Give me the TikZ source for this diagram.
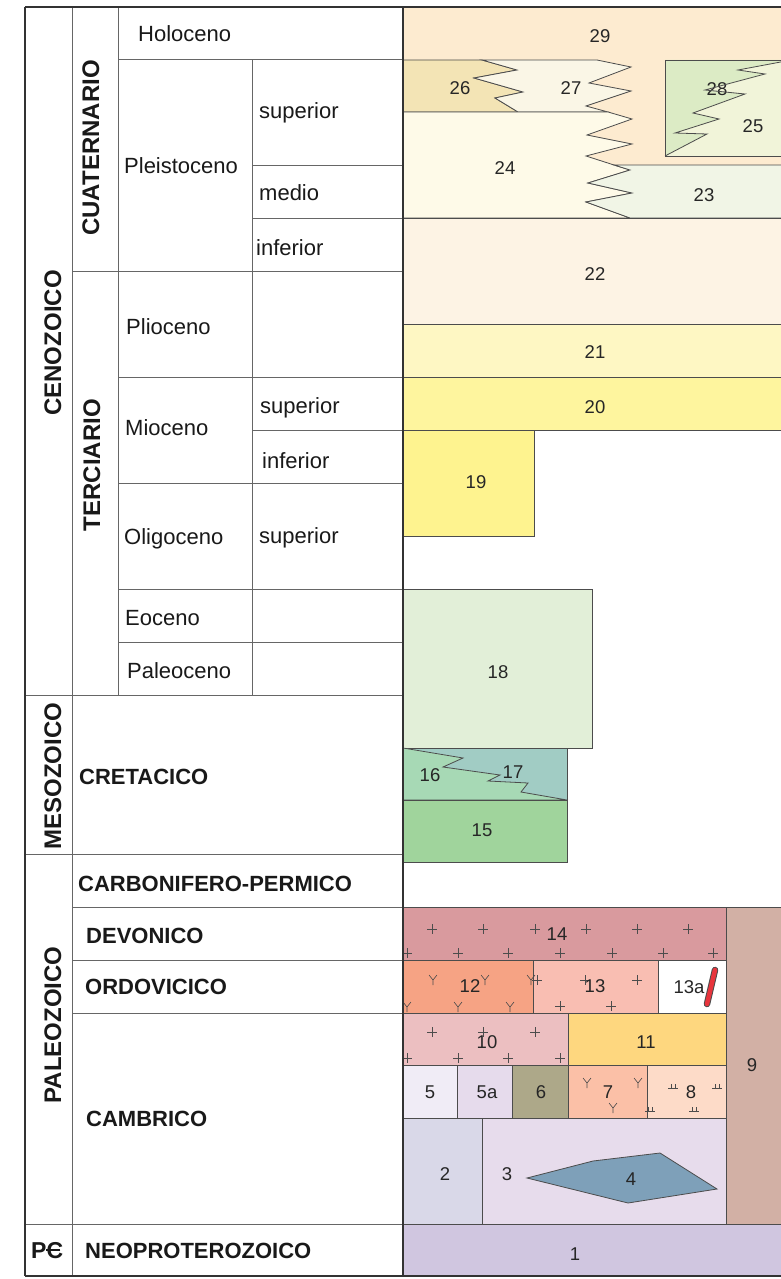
\documentclass[tikz,border=0pt]{standalone}
\usepackage{fontspec}
\setmainfont{Liberation Sans}
\definecolor{c29}{HTML}{FDEBD0}
\definecolor{c26}{HTML}{F3E4B5}
\definecolor{c27}{HTML}{FAF6E6}
\definecolor{c24}{HTML}{FEFAE8}
\definecolor{c23}{HTML}{F1F5E6}
\definecolor{c28}{HTML}{DCEBC5}
\definecolor{c25}{HTML}{F1F4D9}
\definecolor{c22}{HTML}{FDF3E4}
\definecolor{c21}{HTML}{FEF7C3}
\definecolor{c20}{HTML}{FEF59E}
\definecolor{c19}{HTML}{FEF38F}
\definecolor{c18}{HTML}{E2EFD8}
\definecolor{c16}{HTML}{A7D9B5}
\definecolor{c17}{HTML}{A1CCC4}
\definecolor{c15}{HTML}{A0D49C}
\definecolor{c14}{HTML}{D99A9E}
\definecolor{c12}{HTML}{F6A384}
\definecolor{c13}{HTML}{F9BEB2}
\definecolor{c10}{HTML}{ECBFC1}
\definecolor{c11}{HTML}{FED77F}
\definecolor{c5}{HTML}{F0ECF6}
\definecolor{c5a}{HTML}{E6DBEC}
\definecolor{c6}{HTML}{ADA889}
\definecolor{c7}{HTML}{FBC0A7}
\definecolor{c8}{HTML}{FDDBC8}
\definecolor{c2}{HTML}{D9D8E8}
\definecolor{c3}{HTML}{E7DCEC}
\definecolor{c4}{HTML}{7EA0B9}
\definecolor{c9}{HTML}{D2B0A5}
\definecolor{c1}{HTML}{D0C6E0}
\definecolor{redbar}{HTML}{E8343C}
\tikzset{
  lab/.style={font=\fontsize{22}{24}\selectfont, inner sep=0pt, anchor=base west, text=black!90},
  blab/.style={font=\bfseries\fontsize{22}{24}\selectfont, inner sep=0pt, anchor=base west, text=black!90},
  era/.style={font=\bfseries\fontsize{24}{26}\selectfont, inner sep=0pt, rotate=90, anchor=base, text=black!90},
  num/.style={font=\fontsize{18.5}{20}\selectfont, inner sep=0pt, text=black!85},
  unit/.style={draw=black!70, line width=0.8pt},
  gridl/.style={draw=black!60, line width=1pt},
  framel/.style={draw=black!80, line width=1.6pt},
  markl/.style={draw=black!70, line width=0.6pt},
  plusm/.pic={\draw[markl] (-5,0)--(5,0) (0,-5)--(0,5);},
  ym/.pic={\draw[markl] (-4,-5)--(0,0)--(4,-5) (0,0)--(0,5);},
  tm/.pic={\draw[markl] (-5,3)--(5,3) (-2,3)--(-2,-1) (2,3)--(2,-1);},
}
\begin{document}
\begin{tikzpicture}[x=1pt,y=-1pt]
\fill[white] (0,0) rectangle (780,1279);
\path[use as bounding box] (0,0) rectangle (780,1279);

% ---------------- chart: Cuaternario
\filldraw[unit, fill=c29] (403,7) rectangle (786,165);
\filldraw[unit, fill=c26] (403,60)--(482,60)--(517,70)--(474,78)--(523,92)--(495,98)--(518,112)--(403,112)--cycle;
\filldraw[unit, fill=c27] (482,60)--(597,60)--(631,67)--(589,83)--(631,91)--(586,106)--(608,112)--(518,112)--(495,98)--(523,92)--(474,78)--(517,70)--cycle;
\filldraw[unit, fill=c24] (403,112)--(608,112)--(632,119)--(587,135)--(632,144)--(586,156)--(614,165)--(630,170)--(588,183)--(632,193)--(586,202)--(630,218)--(403,218)--cycle;
\filldraw[unit, fill=c23] (614,165)--(786,165)--(786,218)--(630,218)--(586,202)--(632,193)--(588,183)--(630,170)--cycle;
\filldraw[unit, fill=c25] (665,60) rectangle (786,156);
\fill[c28] (665,60)--(786,60)--(786,61)--(738,70)--(765,74)--(705,90)--(745,94)--(693,113)--(719,119)--(675,133)--(707,134)--(665,156)--cycle;
\draw[unit] (665,60) rectangle (786,156);
\node[num] (n29) at (600,36) {29};
\node[num] (n26) at (460,88) {26};
\node[num] (n27) at (571,88) {27};
\node[num] (n28) at (717,89) {28};
\node[num] (n25) at (753,126) {25};
\node[num] (n24) at (505,168) {24};
\node[num] (n23) at (704,195) {23};
\draw[unit] (786,61)--(738,70)--(765,74)--(705,90)--(745,94)--(693,113)--(719,119)--(675,133)--(707,134)--(665,156);

% ---------------- Terciario
\filldraw[unit, fill=c22] (403,218) rectangle (786,324);
\filldraw[unit, fill=c21] (403,324) rectangle (786,377);
\filldraw[unit, fill=c20] (403,377) rectangle (786,430);
\filldraw[unit, fill=c19] (403,430) rectangle (534,536);
\filldraw[unit, fill=c18] (403,589) rectangle (592,748);
\node[num] (n22) at (595,274) {22};
\node[num] (n21) at (595,352) {21};
\node[num] (n20) at (595,407) {20};
\node[num] (n19) at (476,482) {19};
\node[num] (n18) at (498,672) {18};

% ---------------- Cretacico
\filldraw[unit, fill=c17] (403,748) rectangle (567,800);
\filldraw[unit, fill=c16] (403,748)--(463,758)--(443,767)--(500,775)--(488,781)--(528,783)--(521,792)--(567,800)--(403,800)--cycle;
\filldraw[unit, fill=c15] (403,800) rectangle (567,862);
\node[num] (n16) at (430,775) {16};
\node[num] (n17) at (513,772) {17};
\node[num] (n15) at (482,830) {15};

% ---------------- Paleozoico
\filldraw[unit, fill=c9] (726,907) rectangle (786,1224);
\filldraw[unit, fill=c14] (403,907) rectangle (726,960);
\filldraw[unit, fill=c12] (403,960) rectangle (533,1013);
\filldraw[unit, fill=c13] (533,960) rectangle (658,1013);
\filldraw[unit, fill=white] (658,960) rectangle (726,1013);
\filldraw[unit, fill=c10] (403,1013) rectangle (568,1065);
\filldraw[unit, fill=c11] (568,1013) rectangle (726,1065);
\filldraw[unit, fill=c5] (403,1065) rectangle (457,1118);
\filldraw[unit, fill=c5a] (457,1065) rectangle (512,1118);
\filldraw[unit, fill=c6] (512,1065) rectangle (568,1118);
\filldraw[unit, fill=c7] (568,1065) rectangle (647,1118);
\filldraw[unit, fill=c8] (647,1065) rectangle (726,1118);
\filldraw[unit, fill=c2] (403,1118) rectangle (482,1224);
\filldraw[unit, fill=c3] (482,1118) rectangle (726,1224);
\filldraw[unit, fill=c4] (527,1178)--(593,1161)--(660,1153)--(717,1189)--(628,1203)--cycle;
\filldraw[unit, fill=c1] (403,1224) rectangle (786,1276);

% marks
\foreach \x in {432,483,535,586,637,688} \pic at (\x,929) {plusm};
\foreach \x in {407,458,508,560,612,663,713} \pic at (\x,953) {plusm};
\foreach \x in {433,485,531} \pic at (\x,980) {ym};
\foreach \x in {407,458,510} \pic at (\x,1007) {ym};
\foreach \x in {537,585,637} \pic at (\x,980) {plusm};
\foreach \x in {560,611} \pic at (\x,1006) {plusm};
\foreach \x in {432,483,535} \pic at (\x,1032) {plusm};
\foreach \x in {407,458,508,560} \pic at (\x,1058) {plusm};
\pic at (587,1083) {ym};
\pic at (638,1083) {ym};
\pic at (613,1108) {ym};
\pic at (673,1085) {tm};
\pic at (717,1085) {tm};
\pic at (650,1108) {tm};
\pic at (694,1108) {tm};
\draw[line width=6.5pt, line cap=round, draw=black!70] (715,970)--(707,1004);
\draw[line width=4.5pt, line cap=round, draw=redbar] (715,970)--(707,1004);

\node[num] (n14) at (557,934) {14};
\node[num] (n12) at (470,986) {12};
\node[num] (n13) at (595,986) {13};
\node[num] (n13a) at (689,987) {13a};
\node[num] (n10) at (487,1042) {10};
\node[num] (n11) at (646,1042) {11};
\node[num] (n9) at (752,1065) {9};
\node[num] (n5) at (430,1092) {5};
\node[num] (n5a) at (487,1092) {5a};
\node[num] (n6) at (541,1092) {6};
\node[num] (n7) at (608,1092) {7};
\node[num] (n8) at (691,1092) {8};
\node[num] (n2) at (445,1174) {2};
\node[num] (n3) at (507,1174) {3};
\node[num] (n4) at (631,1179) {4};
\node[num] (n1) at (575,1254) {1};

% ---------------- left table grid
\draw[gridl] (118,60)--(403,60);
\draw[gridl] (252,165)--(403,165);
\draw[gridl] (252,218)--(403,218);
\draw[gridl] (72,271)--(403,271);
\draw[gridl] (118,377)--(403,377);
\draw[gridl] (252,430)--(403,430);
\draw[gridl] (118,483)--(403,483);
\draw[gridl] (118,589)--(403,589);
\draw[gridl] (118,642)--(403,642);
\draw[gridl] (25,695)--(403,695);
\draw[gridl] (25,854)--(403,854);
\draw[gridl] (72,907)--(403,907);
\draw[gridl] (72,960)--(403,960);
\draw[gridl] (72,1013)--(403,1013);
\draw[gridl] (25,1224)--(403,1224);
\draw[gridl] (72,7)--(72,1276);
\draw[gridl] (118,7)--(118,695);
\draw[gridl] (252,60)--(252,695);
\draw[framel] (25,7)--(786,7);
\draw[framel] (25,1276)--(786,1276);
\draw[framel] (25,7)--(25,1276);
\draw[framel] (403,7)--(403,1276);

% ---------------- labels
\node[era] (cen) at (61,343) {CENOZOICO};
\node[era] (mes) at (61,776) {MESOZOICO};
\node[era] (pal) at (61,1025) {PALEOZOICO};
\node[era] (cua) at (99,148) {CUATERNARIO};
\node[era] (ter) at (100,465) {TERCIARIO};
\node[lab] (hol) at (138,42) {Holoceno};
\node[lab] (ple) at (124,173) {Pleistoceno};
\node[lab] (psup) at (259,119) {superior};
\node[lab] (pmed) at (259,200) {medio};
\node[lab] (pinf) at (256,255) {inferior};
\node[lab] (pli) at (126,334) {Plioceno};
\node[lab] (mio) at (125,435) {Mioceno};
\node[lab] (msup) at (260,413) {superior};
\node[lab] (minf) at (262,468) {inferior};
\node[lab] (oli) at (124,544) {Oligoceno};
\node[lab] (osup) at (259,543) {superior};
\node[lab] (eoc) at (125,625) {Eoceno};
\node[lab] (pale) at (127,678) {Paleoceno};
\node[blab] (cre) at (79,784) {CRETACICO};
\node[blab] (carb) at (78,891) {CARBONIFERO-PERMICO};
\node[blab] (dev) at (86,943) {DEVONICO};
\node[blab] (ord) at (85,994) {ORDOVICICO};
\node[blab] (cam) at (86,1126) {CAMBRICO};
\node[blab] (neo) at (85,1258) {NEOPROTEROZOICO};
\node[blab, font=\bfseries\fontsize{23}{25}\selectfont] (pc) at (31,1258) {PC};
\draw[line width=1.8pt, black!90] ([xshift=-3pt]pc.base east |- 0,1250) coordinate (pcbar1) -- +(-14,0);
\end{tikzpicture}
\end{document}
